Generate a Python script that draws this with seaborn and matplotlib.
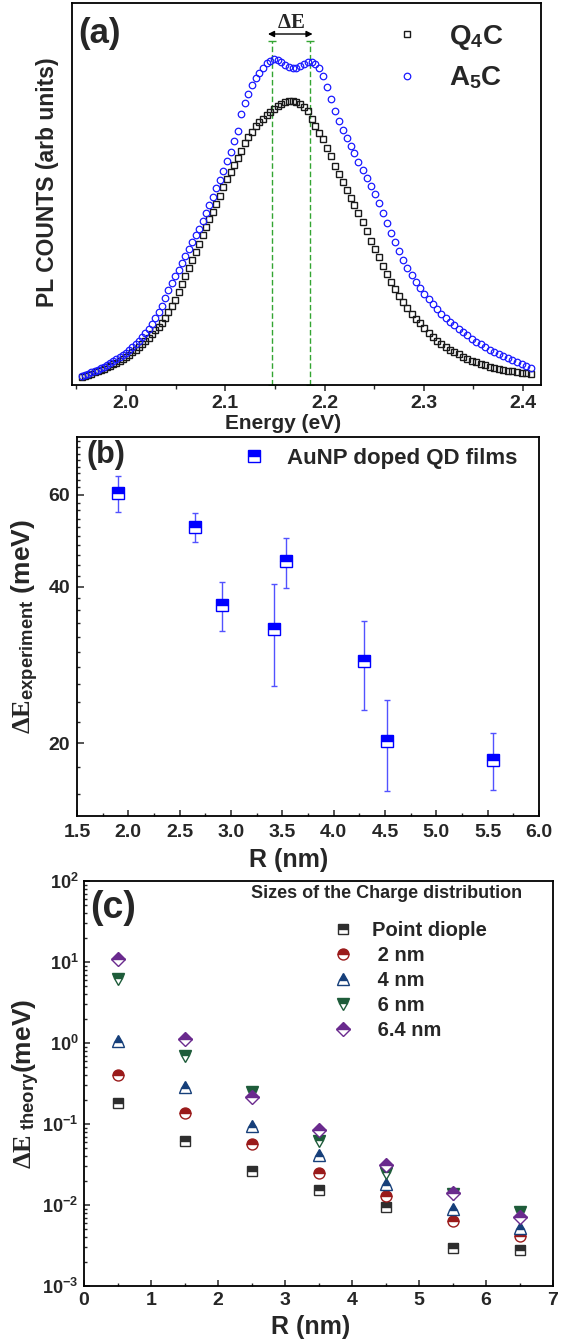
import numpy as np
import pandas as pd
import matplotlib
matplotlib.use("Agg")
import matplotlib.pyplot as plt
from matplotlib.lines import Line2D
from matplotlib.ticker import FixedLocator, MultipleLocator, LogLocator, NullFormatter
import seaborn as sns

# ---------------- (a) PL spectra ----------------
energy_ev = [
    1.9558, 1.9589, 1.9620, 1.9651, 1.9683, 1.9714, 1.9745, 1.9777, 1.9808, 1.9840,
    1.9872, 1.9904, 1.9936, 1.9968, 2.0000, 2.0032, 2.0065, 2.0097, 2.0130, 2.0163,
    2.0195, 2.0228, 2.0261, 2.0295, 2.0328, 2.0361, 2.0395, 2.0428, 2.0462, 2.0496,
    2.0530, 2.0564, 2.0598, 2.0632, 2.0667, 2.0701, 2.0736, 2.0771, 2.0805, 2.0840,
    2.0875, 2.0911, 2.0946, 2.0981, 2.1017, 2.1053, 2.1088, 2.1124, 2.1160, 2.1197,
    2.1233, 2.1269, 2.1306, 2.1343, 2.1379, 2.1416, 2.1453, 2.1490, 2.1528, 2.1565,
    2.1603, 2.1640, 2.1678, 2.1716, 2.1754, 2.1793, 2.1831, 2.1869, 2.1908, 2.1947,
    2.1986, 2.2025, 2.2064, 2.2103, 2.2143, 2.2182, 2.2222, 2.2262, 2.2302, 2.2342,
    2.2383, 2.2423, 2.2464, 2.2505, 2.2545, 2.2587, 2.2628, 2.2669, 2.2711, 2.2752,
    2.2794, 2.2836, 2.2878, 2.2921, 2.2963, 2.3006, 2.3048, 2.3091, 2.3134, 2.3178,
    2.3221, 2.3265, 2.3308, 2.3352, 2.3396, 2.3440, 2.3485, 2.3529, 2.3574, 2.3619,
    2.3664, 2.3709, 2.3755, 2.3800, 2.3846, 2.3892, 2.3938, 2.3985, 2.4031, 2.4078,
]
pl_q4c = [
    8.5, 9.5, 10.5, 11.5, 12.6, 13.8, 15.0, 16.4, 17.8, 19.2,
    20.8, 22.4, 24.0, 26.0, 28.3, 30.5, 32.8, 35.2, 38.0, 41.0,
    44.0, 47.5, 51.0, 54.8, 58.5, 62.5, 67.5, 73.1, 79.3, 85.5,
    92.9, 100.9, 108.8, 116.8, 124.9, 132.8, 141.2, 149.9, 158.3, 166.0,
    173.5, 181.3, 189.4, 197.6, 205.8, 213.0, 220.0, 227.3, 234.4, 241.7,
    248.0, 253.5, 258.8, 263.0, 266.5, 270.0, 273.2, 276.2, 278.8, 281.0,
    282.8, 283.8, 284.2, 283.5, 281.5, 277.8, 273.7, 266.2, 259.3, 252.5,
    245.8, 237.5, 229.0, 219.5, 211.0, 203.5, 195.5, 187.5, 179.8, 171.6,
    162.8, 153.7, 144.2, 136.0, 127.8, 119.5, 111.5, 103.5, 96.2, 89.5,
    83.5, 77.3, 71.5, 66.0, 61.6, 57.5, 52.0, 47.8, 44.0, 40.9,
    38.0, 35.3, 32.9, 30.6, 28.5, 26.4, 24.5, 22.8, 21.2, 19.6,
    18.3, 17.2, 16.1, 15.2, 14.4, 13.7, 13.0, 12.4, 11.8, 11.2,
]
pl_a5c = [
    9.2, 10.3, 11.5, 12.7, 14.0, 15.3, 16.8, 18.5, 20.2, 22.0,
    23.8, 25.8, 28.0, 30.2, 32.5, 35.0, 37.8, 40.9, 44.5, 48.0,
    51.8, 56.0, 61.5, 67.2, 72.7, 79.4, 87.2, 94.9, 102.1, 108.8,
    115.5, 122.3, 129.1, 135.9, 143.0, 149.6, 156.5, 164.4, 172.2, 180.3,
    188.5, 196.9, 205.0, 214.3, 223.8, 233.5, 243.9, 254.5, 271.5, 281.8,
    291.2, 300.1, 306.9, 312.4, 317.4, 321.7, 324.4, 326.0, 325.3, 323.0,
    320.5, 318.2, 316.8, 317.3, 319.0, 321.5, 322.8, 323.2, 321.5, 317.5,
    309.5, 297.8, 286.3, 274.5, 264.0, 255.3, 247.3, 239.3, 231.6, 223.4,
    215.3, 207.3, 198.8, 190.6, 181.6, 171.8, 161.7, 152.5, 143.1, 133.9,
    125.3, 117.1, 109.9, 103.3, 96.7, 91.3, 86.0, 80.7, 75.7, 71.1,
    67.2, 63.3, 59.7, 56.1, 52.9, 49.7, 46.5, 43.5, 40.6, 37.9,
    35.2, 32.9, 30.7, 28.7, 26.8, 25.0, 23.3, 21.2, 19.3, 17.4,
]
peak_positions_ev = [2.147, 2.185]
a_xticks = [2.0, 2.1, 2.2, 2.3, 2.4]
a_xticklabels = ["2.0", "2.1", "2.2", "2.3", "2.4"]

# ---------------- (b) measured splitting ----------------
r_exp_nm = [1.90, 2.65, 2.91, 3.42, 3.54, 4.30, 4.52, 5.55]
de_exp_mev = [60.5, 52.0, 36.8, 33.1, 44.7, 28.8, 20.2, 18.6]
de_exp_err = [4.8, 3.3, 4.0, 7.3, 4.9, 5.6, 4.0, 2.3]
b_xticks = [1.5, 2.0, 2.5, 3.0, 3.5, 4.0, 4.5, 5.0, 5.5, 6.0]
b_xticklabels = ["1.5", "2.0", "2.5", "3.0", "3.5", "4.0", "4.5", "5.0", "5.5", "6.0"]
b_yticks = [20, 40, 60]
b_yticklabels = ["20", "40", "60"]
b_yminor = [16, 18, 22, 24, 26, 28, 30, 32, 34, 36, 38, 42, 44, 46, 48, 50,
            52, 54, 56, 58, 62, 64, 66, 68, 70, 72, 74, 76]

# ---------------- (c) calculated splitting ----------------
r_theory_nm = [0.5, 1.5, 2.5, 3.5, 4.5, 5.5, 6.5]
de_point_dipole = [0.180, 0.0617, 0.0263, 0.0153, 0.00935, 0.00297, 0.00278]
de_size_2nm = [0.400, 0.1355, 0.0561, 0.0246, 0.0130, 0.00634, 0.00418]
de_size_4nm = [1.06, 0.284, 0.0944, 0.0410, 0.0182, 0.00885, 0.00525]
de_size_6nm = [6.1, 0.700, 0.246, 0.0622, 0.0246, 0.0135, 0.00813]
de_size_6p4nm = [10.9, 1.13, 0.217, 0.0835, 0.0309, 0.0142, 0.00705]
size_labels = ["Point diople", " 2 nm", " 4 nm", " 6 nm", " 6.4 nm"]
c_xticks = [0, 1, 2, 3, 4, 5, 6, 7]
c_xticklabels = ["0", "1", "2", "3", "4", "5", "6", "7"]
c_yticks = [1e-3, 1e-2, 1e-1, 1e0, 1e1, 1e2]
c_yticklabels = [r"$\mathbf{10^{-3}}$", r"$\mathbf{10^{-2}}$", r"$\mathbf{10^{-1}}$",
                 r"$\mathbf{10^{0}}$", r"$\mathbf{10^{1}}$", r"$\mathbf{10^{2}}$"]

# ---------------- style ----------------
sns.set_style("ticks")
plt.rcParams["font.family"] = ["Liberation Sans", "DejaVu Sans"]
plt.rcParams["font.weight"] = "bold"
plt.rcParams["axes.labelweight"] = "bold"
plt.rcParams["mathtext.fontset"] = "custom"
plt.rcParams["mathtext.rm"] = "Liberation Serif"
plt.rcParams["mathtext.it"] = "Liberation Serif:italic"
plt.rcParams["mathtext.bf"] = "Liberation Sans:bold"
plt.rcParams["axes.linewidth"] = 1.3
plt.rcParams["axes.edgecolor"] = "black"

W, H = 569, 1341
fig = plt.figure(figsize=(W / 100, H / 100), dpi=100)


def box(left, top, right, bottom):
    return [left / W, 1 - bottom / H, (right - left) / W, (bottom - top) / H]


def fig_text(px, py, s, **kw):
    fig.text(px / W, 1 - py / H, s, **kw)


ax_a = fig.add_axes(box(72, 3, 541, 385))
ax_b = fig.add_axes(box(77, 437, 539, 816))
ax_c = fig.add_axes(box(84, 881, 553, 1286))
for ax in (ax_a, ax_b, ax_c):
    for sp in ax.spines.values():
        sp.set_visible(True)
        sp.set_linewidth(1.3)

# ---- panel (a) ----
q4c_color = "#1a1a1a"
a5c_color = "#1a1aff"
sq_ms, ci_ms = 4.1, 4.7
sns.lineplot(x=energy_ev, y=pl_q4c, ax=ax_a, color=q4c_color, ls="", marker="s",
             ms=sq_ms, mfc="none", mec=q4c_color, mew=1.0, legend=False)
sns.lineplot(x=energy_ev, y=pl_a5c, ax=ax_a, color=a5c_color, ls="", marker="o",
             ms=ci_ms, mfc="none", mec=a5c_color, mew=0.9, legend=False)

green = "#33a532"
for e in peak_positions_ev:
    ax_a.plot([e, e], [0, 344], ls=(0, (4, 2)), lw=1.0, color=green, zorder=1)
    ax_a.plot([e, e], [0, 344], ls="", marker="_", ms=6, mew=1.0, color=green, zorder=1)
ax_a.annotate("", xy=(peak_positions_ev[1] + 0.003, 351), xytext=(peak_positions_ev[0] - 0.004, 351),
              arrowprops=dict(arrowstyle="<|-|>", color="black", lw=1.0,
                              mutation_scale=9, shrinkA=0, shrinkB=0))
ax_a.text(sum(peak_positions_ev) / 2, 363, r"$\mathrm{\Delta E}$", ha="center", va="center",
          fontsize=15)

ax_a.set_xlim(1.9456, 2.4181)
ax_a.set_ylim(0, 382)
ax_a.set_xticks(a_xticks, a_xticklabels)
ax_a.xaxis.set_minor_locator(MultipleLocator(0.05))
ax_a.tick_params(axis="x", which="major", direction="out", length=4, width=1.1,
                 labelsize=14, pad=3)
ax_a.tick_params(axis="x", which="minor", direction="out", length=3, width=1.0)
ax_a.tick_params(axis="y", which="both", left=False, labelleft=False)
ax_a.set_xlabel("Energy (eV)", fontsize=15, va="center")
ax_a.xaxis.set_label_coords(0.45, -0.0995)
ax_a.set_ylabel("PL COUNTS (arb units)", fontsize=16.5, va="center", ha="center")
ax_a.yaxis.set_label_coords(-0.0533, 0.531)

handles_a = [
    Line2D([], [], ls="", marker="s", ms=sq_ms, mfc="none", mec=q4c_color, mew=1.0),
    Line2D([], [], ls="", marker="o", ms=ci_ms, mfc="none", mec=a5c_color, mew=0.9),
]
ax_a.legend(handles_a, [r"Q$_\mathbf{4}$C", r"A$_\mathbf{5}$C"], loc="upper left",
            bbox_to_anchor=((393 - 72) / 469, (385 - 23) / 382), frameon=False,
            fontsize=20, handlelength=1.0, handletextpad=1.0, borderpad=0,
            borderaxespad=0, labelspacing=0.45)
fig_text(78, 34, "(a)", fontsize=25, ha="left", va="center")

# ---- panel (b) ----
blue = "#0000ff"
ax_b.errorbar(r_exp_nm, de_exp_mev, yerr=de_exp_err, fmt="none", ecolor="#5252ff",
              elinewidth=1.0, capsize=2.3, capthick=1.0, zorder=2)
sns.lineplot(x=r_exp_nm, y=de_exp_mev, ax=ax_b, color=blue, ls="", marker="s", ms=8,
             mfc=blue, mec=blue, mew=1.0, fillstyle="top", markerfacecoloralt="white",
             legend=False, zorder=3)
ax_b.set_yscale("log")
ax_b.set_xlim(1.5, 6.0)
ax_b.set_ylim(14.5, 77.5)
ax_b.set_xticks(b_xticks, b_xticklabels)
ax_b.xaxis.set_minor_locator(MultipleLocator(0.25))
ax_b.set_yticks(b_yticks, b_yticklabels)
ax_b.yaxis.set_minor_locator(FixedLocator(b_yminor))
ax_b.yaxis.set_minor_formatter(NullFormatter())
ax_b.tick_params(axis="both", which="major", direction="in", labelsize=14, width=1.1)
ax_b.tick_params(axis="x", which="major", length=4, pad=6)
ax_b.tick_params(axis="y", which="major", length=5, pad=5)
ax_b.tick_params(axis="both", which="minor", direction="in", length=2.5, width=1.0)
ax_b.set_xlabel("R (nm)", fontsize=18, va="center")
ax_b.xaxis.set_label_coords(0.459, -0.116)
ax_b.set_ylabel(r"$\mathrm{\Delta E}_{\mathbf{experiment}}$ (meV)", fontsize=19,
                va="center", ha="center")
ax_b.yaxis.set_label_coords(-0.1126, 0.4987)
handles_b = [Line2D([], [], ls="", marker="s", ms=8, mfc=blue, mec=blue, mew=1.0,
                    fillstyle="top", markerfacecoloralt="white")]
ax_b.legend(handles_b, ["AuNP doped QD films"], loc="upper left",
            bbox_to_anchor=((243 - 77) / 462, (816 - 448) / 379), frameon=False,
            fontsize=16, handlelength=1.0, handletextpad=0.99, borderpad=0,
            borderaxespad=0)
fig_text(87, 454.5, "(b)", fontsize=22, ha="left", va="center")

# ---- panel (c) ----
series_c = [
    (de_point_dipole, "s", 7.0, "#2e2e2e"),
    (de_size_2nm, "o", 7.9, "#9a1a1a"),
    (de_size_4nm, "^", 9.0, "#163f7a"),
    (de_size_6nm, "v", 9.0, "#1e5c3a"),
    (de_size_6p4nm, "D", 7.4, "#6a2a8e"),
]
handles_c = []
for vals, mk, size, col in series_c:
    sns.lineplot(x=r_theory_nm, y=vals, ax=ax_c, color=col, ls="", marker=mk, ms=size,
                 mfc=col, mec=col, mew=1.0, fillstyle="top", markerfacecoloralt="white",
                 legend=False)
    handles_c.append(Line2D([], [], ls="", marker=mk, ms=size, mfc=col, mec=col, mew=1.0,
                            fillstyle="top", markerfacecoloralt="white"))
ax_c.set_yscale("log")
ax_c.set_xlim(0, 7)
ax_c.set_ylim(1e-3, 1e2)
ax_c.set_xticks(c_xticks, c_xticklabels)
ax_c.xaxis.set_minor_locator(MultipleLocator(0.5))
ax_c.set_yticks(c_yticks, c_yticklabels)
ax_c.yaxis.set_minor_locator(LogLocator(base=10, subs=np.arange(2, 10)))
ax_c.yaxis.set_minor_formatter(NullFormatter())
ax_c.tick_params(axis="x", which="major", direction="in", length=4.5, width=1.1,
                 labelsize=14, pad=4)
ax_c.tick_params(axis="y", which="major", direction="in", length=4.5, width=1.1,
                 labelsize=13, pad=4)
ax_c.tick_params(axis="both", which="minor", direction="in", length=2.5, width=1.0)
ax_c.set_xlabel("R (nm)", fontsize=18, va="center")
ax_c.xaxis.set_label_coords(0.484, -0.101)
ax_c.set_ylabel(r"$\mathrm{\Delta E}_{\mathbf{\ theory}}$(meV)", fontsize=19,
                va="center", ha="center")
ax_c.yaxis.set_label_coords(-0.1237, 0.4988)
ax_c.legend(handles_c, size_labels, loc="upper left",
            bbox_to_anchor=((333 - 84) / 469, (1286 - 921) / 405), frameon=False,
            fontsize=14.5, handlelength=1.0, handletextpad=0.95, borderpad=0,
            borderaxespad=0, labelspacing=0.3)
fig_text(251, 894, "Sizes of the Charge distribution", fontsize=13, ha="left", va="center")
fig_text(90, 908, "(c)", fontsize=27, ha="left", va="center")

fig.savefig("out.png", dpi=100)
